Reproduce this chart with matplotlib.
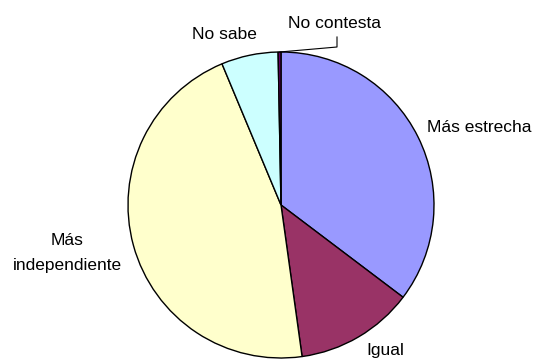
import numpy as np
import matplotlib
matplotlib.use("Agg")
import matplotlib.pyplot as plt

# Survey answers (percent of respondents)
categories = ["Más estrecha", "Igual", "Más independiente", "No sabe", "No contesta"]
shares = [35.3, 12.5, 45.9, 6.0, 0.3]
colors = ["#9999FF", "#993366", "#FFFFCC", "#CCFFFF", "#660066"]

plt.rcParams['font.family'] = ['Liberation Sans', 'DejaVu Sans']

fig = plt.figure(figsize=(5.36, 3.6), dpi=100)
ax = fig.add_axes([0, 0, 1, 1])

cx, cy, r = 281, 155, 153
wedges, _ = ax.pie(shares, colors=colors, startangle=90, counterclock=False,
                   center=(cx, cy), radius=r, frame=True,
                   wedgeprops=dict(edgecolor='black', linewidth=1.0))
ax.set_xlim(0, 536)
ax.set_ylim(0, 360)
ax.set_aspect('equal')
ax.axis('off')

fs = 12.5
# label positions given in pixels from top-left (x, baseline y)
ax.text(479, 360 - 132, "Más estrecha", ha='center', va='baseline', fontsize=fs)
ax.text(385, 360 - 355.5, "Igual", ha='center', va='baseline', fontsize=fs)
ax.text(67, 360 - 245, "Más", ha='center', va='baseline', fontsize=fs)
ax.text(67, 360 - 270, "independiente", ha='center', va='baseline', fontsize=fs)
ax.text(224, 360 - 39, "No sabe", ha='center', va='baseline', fontsize=fs)
ax.text(335, 360 - 28, "No contesta", ha='center', va='baseline', fontsize=fs)

# leader line for the thin "No contesta" slice
w = wedges[4]
mid = np.deg2rad((w.theta1 + w.theta2) / 2)
x0, y0 = cx + r * np.cos(mid), cy + r * np.sin(mid)
ax.plot([x0, 337, 337], [y0, 360 - 47, 360 - 37], color='black', lw=0.8)

fig.savefig("out.png", dpi=100)
